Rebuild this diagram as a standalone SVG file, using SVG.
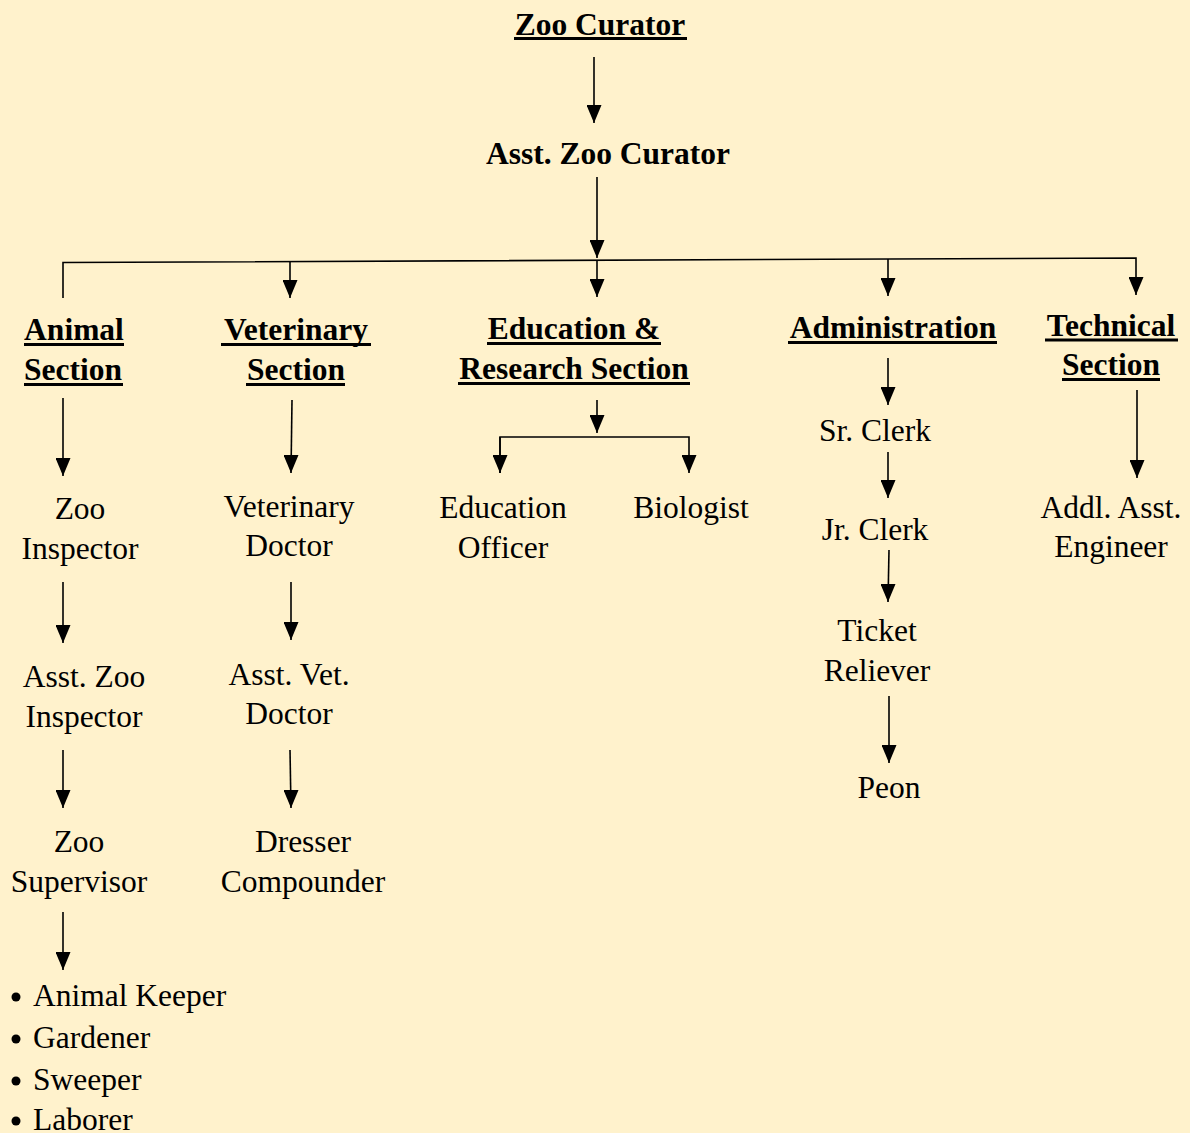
<svg xmlns="http://www.w3.org/2000/svg" width="1190" height="1133" viewBox="0 0 1190 1133">
<defs>
<style>
text{font-family:"Liberation Serif","Times New Roman",serif;font-size:31.5px;fill:#000;text-anchor:middle}
.h,.b{font-weight:bold}
.l{text-anchor:start}
.c{fill:none;stroke:#000;stroke-width:1.6}
.u{stroke:#000;stroke-width:3}
</style>
<marker id="a" markerUnits="userSpaceOnUse" markerWidth="15" markerHeight="18" refX="7.5" refY="18" orient="0" viewBox="0 0 15 18">
<path d="M0,0 L15,0 L7.5,18 Z" fill="#000"/>
</marker>
</defs>
<rect width="1190" height="1133" fill="#FFF2CC"/>
<g id="connectors">
<path class="c" d="M594,57 V123" marker-end="url(#a)"/>
<path class="c" d="M597,177 V258" marker-end="url(#a)"/>
<path class="c" d="M63,298 V262.5 L1136,258 V295" marker-end="url(#a)"/>
<path class="c" d="M290,262 V298" marker-end="url(#a)"/>
<path class="c" d="M597,260 V297" marker-end="url(#a)"/>
<path class="c" d="M888,259 V296" marker-end="url(#a)"/>
<path class="c" d="M63,398 V476" marker-end="url(#a)"/>
<path class="c" d="M63,582 V643" marker-end="url(#a)"/>
<path class="c" d="M63,750 V808" marker-end="url(#a)"/>
<path class="c" d="M63,912 V970" marker-end="url(#a)"/>
<path class="c" d="M292,400 L291,473" marker-end="url(#a)"/>
<path class="c" d="M291,582 V640" marker-end="url(#a)"/>
<path class="c" d="M290,750 L291,808" marker-end="url(#a)"/>
<path class="c" d="M597,400 V433" marker-end="url(#a)"/>
<path class="c" d="M500,473 V437 H689 V473" marker-end="url(#a)"/>
<path class="c" d="M500,437 V473" marker-end="url(#a)"/>
<path class="c" d="M888,358 V405" marker-end="url(#a)"/>
<path class="c" d="M888,452 V498" marker-end="url(#a)"/>
<path class="c" d="M889,550 L888,602" marker-end="url(#a)"/>
<path class="c" d="M889,696 V763" marker-end="url(#a)"/>
<path class="c" d="M1137,390 V478" marker-end="url(#a)"/>
</g>
<g id="zoo-curator"><text class="h" x="600" y="35">Zoo Curator</text><line class="u" x1="514" y1="38.5" x2="687" y2="38.5"/></g>
<g id="asst-zoo-curator"><text class="b" x="608" y="164">Asst. Zoo Curator</text></g>
<g id="animal-section"><text class="h" x="74" y="340">Animal</text><line class="u" x1="24" y1="344.5" x2="124" y2="344.5"/><text class="h" x="73" y="380">Section</text><line class="u" x1="24" y1="384.5" x2="123" y2="384.5"/></g>
<g id="veterinary-section"><text class="h" x="296" y="340">Veterinary</text><line class="u" x1="221" y1="344.5" x2="371" y2="344.5"/><text class="h" x="296" y="380">Section</text><line class="u" x1="246" y1="384.5" x2="345" y2="384.5"/></g>
<g id="education-section"><text class="h" x="574" y="339">Education &amp;</text><line class="u" x1="487" y1="343.5" x2="661" y2="343.5"/><text class="h" x="574" y="379">Research Section</text><line class="u" x1="458" y1="383.5" x2="690" y2="383.5"/></g>
<g id="administration"><text class="h" x="893" y="338">Administration</text><line class="u" x1="788" y1="342.5" x2="997" y2="342.5"/></g>
<g id="technical-section"><text class="h" x="1111" y="336">Technical</text><line class="u" x1="1045" y1="340" x2="1178" y2="340"/><text class="h" x="1111" y="375">Section</text><line class="u" x1="1062" y1="379.5" x2="1160" y2="379.5"/></g>
<g id="zoo-inspector"><text x="80" y="519">Zoo</text><text x="80" y="559">Inspector</text></g>
<g id="asst-zoo-inspector"><text x="84" y="687">Asst. Zoo</text><text x="84" y="727">Inspector</text></g>
<g id="zoo-supervisor"><text x="79" y="852">Zoo</text><text x="79" y="892">Supervisor</text></g>
<g id="staff-list">
<circle cx="16" cy="997" r="4.5"/><text class="l" x="33" y="1006">Animal Keeper</text>
<circle cx="16" cy="1039" r="4.5"/><text class="l" x="33" y="1048">Gardener</text>
<circle cx="16" cy="1081" r="4.5"/><text class="l" x="33" y="1090">Sweeper</text>
<circle cx="16" cy="1121" r="4.5"/><text class="l" x="33" y="1130">Laborer</text>
</g>
<g id="veterinary-doctor"><text x="289" y="517">Veterinary</text><text x="289" y="556">Doctor</text></g>
<g id="asst-vet-doctor"><text x="289" y="685">Asst. Vet.</text><text x="289" y="724">Doctor</text></g>
<g id="dresser-compounder"><text x="303" y="852">Dresser</text><text x="303" y="892">Compounder</text></g>
<g id="education-officer"><text x="503" y="518">Education</text><text x="503" y="558">Officer</text></g>
<g id="biologist"><text x="691" y="518">Biologist</text></g>
<g id="sr-clerk"><text x="875" y="441">Sr. Clerk</text></g>
<g id="jr-clerk"><text x="875" y="540">Jr. Clerk</text></g>
<g id="ticket-reliever"><text x="877" y="641">Ticket</text><text x="877" y="681">Reliever</text></g>
<g id="peon"><text x="889" y="798">Peon</text></g>
<g id="addl-asst-engineer"><text x="1111" y="518">Addl. Asst.</text><text x="1111" y="557">Engineer</text></g>
</svg>
